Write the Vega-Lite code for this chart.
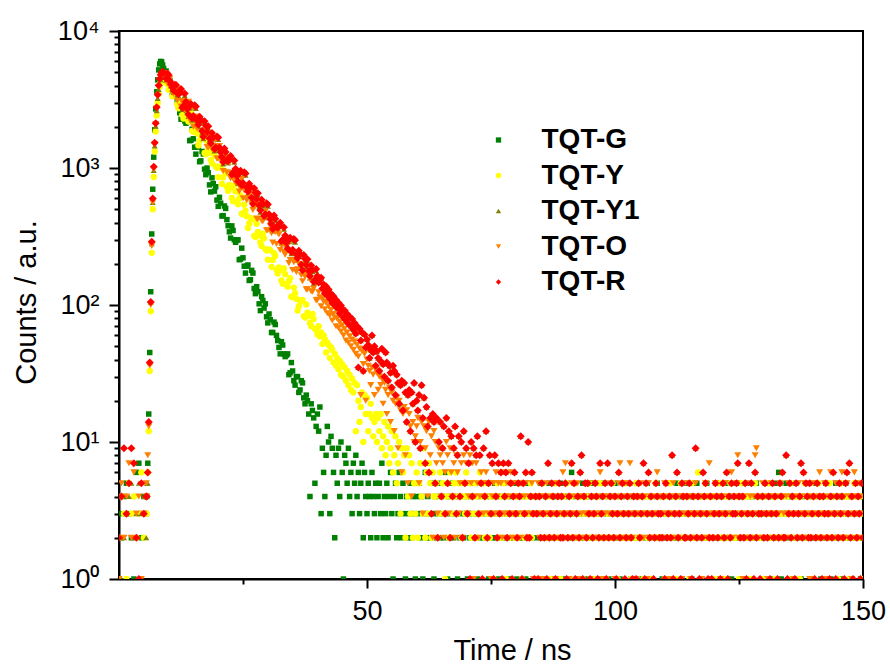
{
"$schema": "https://vega.github.io/schema/vega-lite/v6.json",
"width": 744, "height": 548,
"autosize": {"type": "none"},
"padding": {"left": 119, "top": 31, "right": 27, "bottom": 89},
"background": "white",
"config": {
  "view": {"stroke": "black", "strokeWidth": 2},
  "axis": {"grid": false, "domainColor": "black", "domainWidth": 2, "tickColor": "black", "tickWidth": 2, "labelColor": "black", "labelFont": "Liberation Sans", "labelFontSize": 27, "titleFont": "Liberation Sans", "titleFontSize": 29, "titleFontWeight": "normal", "titleColor": "black", "labelOverlap": false, "labelFlush": false},
  "legend": {"orient": "none", "legendX": 365.5, "legendY": 95, "padding": 0, "labelFont": "Liberation Sans", "labelFontSize": 28, "labelFontWeight": "bold", "labelColor": "black", "symbolSize": 28, "rowPadding": 7.5, "labelOffset": 29, "symbolStrokeWidth": 0}
},
"data": {"values": [
{"t":0,"G":3,"Y":2,"Y1":4,"O":1,"R":2},
{"t":0.5,"G":2,"Y":4,"Y1":1,"O":5,"R":4},
{"t":1,"G":4,"Y":3,"Y1":2,"O":2,"R":9},
{"t":1.5,"G":5,"Y":1,"Y1":3,"O":4,"R":3},
{"t":2,"G":3,"Y":5,"Y1":4,"O":7,"R":5},
{"t":2.5,"G":2,"Y":3,"Y1":5,"O":2,"R":9},
{"t":3,"G":1,"Y":4,"Y1":2,"O":6,"R":7},
{"t":3.5,"G":6,"Y":2,"Y1":3,"O":3,"R":2},
{"t":4,"G":7,"Y":3,"Y1":5,"O":4,"R":1},
{"t":4.5,"G":2,"Y":6,"Y1":3,"O":1,"R":5},
{"t":5,"G":4,"Y":2,"Y1":4,"O":3,"R":3},
{"t":5.5,"G":3,"Y":4,"Y1":2,"O":5,"R":4},
{"t":5.6,"G":4,"Y":3,"Y1":5,"O":4,"R":4},
{"t":5.8,"G":7,"Y":6,"Y1":5,"O":8,"R":6},
{"t":6.0,"G":16,"Y":12,"Y1":14,"O":13,"R":14},
{"t":6.2,"G":45,"Y":33,"Y1":38,"O":36,"R":38},
{"t":6.4,"G":125,"Y":90,"Y1":105,"O":100,"R":105},
{"t":6.6,"G":330,"Y":240,"Y1":280,"O":270,"R":290},
{"t":6.8,"G":700,"Y":500,"Y1":560,"O":560,"R":600},
{"t":7.0,"G":1200,"Y":860,"Y1":960,"O":980,"R":1020},
{"t":7.2,"G":1900,"Y":1320,"Y1":1450,"O":1480,"R":1530},
{"t":7.4,"G":2700,"Y":1850,"Y1":2020,"O":2080,"R":2120},
{"t":7.6,"G":3600,"Y":2420,"Y1":2620,"O":2720,"R":2780},
{"t":7.8,"G":4400,"Y":2980,"Y1":3220,"O":3350,"R":3420},
{"t":8.0,"G":5200,"Y":3480,"Y1":3750,"O":3900,"R":4000},
{"t":8.2,"G":5750,"Y":3900,"Y1":4150,"O":4330,"R":4480},
{"t":8.4,"G":6000,"Y":4220,"Y1":4420,"O":4600,"R":4800},
{"t":8.6,"G":5950,"Y":4430,"Y1":4580,"O":4760,"R":4970},
{"t":8.8,"G":5650,"Y":4560,"Y1":4650,"O":4820,"R":5050},
{"t":9.0,"G":5330,"Y":4600,"Y1":4640,"O":4790,"R":4950},
{"t":9.5,"G":5104,"Y":4205,"Y1":4375,"O":4926,"R":4510},
{"t":10,"G":4117,"Y":3723,"Y1":4630,"O":4085,"R":4773},
{"t":10.5,"G":4021,"Y":3884,"Y1":3970,"O":4106,"R":4093},
{"t":11,"G":3442,"Y":3449,"Y1":3563,"O":3470,"R":3673},
{"t":11.5,"G":3743,"Y":3673,"Y1":3911,"O":3801,"R":4032},
{"t":12,"G":2803,"Y":2729,"Y1":3354,"O":3745,"R":3458},
{"t":12.5,"G":2272,"Y":2886,"Y1":3658,"O":2803,"R":3771},
{"t":13,"G":2582,"Y":2296,"Y1":2754,"O":3084,"R":2839},
{"t":13.5,"G":2120,"Y":2708,"Y1":2951,"O":2596,"R":3042},
{"t":14,"G":2211,"Y":2182,"Y1":2379,"O":3048,"R":2453},
{"t":14.5,"G":1594,"Y":2529,"Y1":2844,"O":2376,"R":2932},
{"t":15,"G":1635,"Y":1839,"Y1":2322,"O":2004,"R":2394},
{"t":15.5,"G":1262,"Y":1958,"Y1":2727,"O":2370,"R":2811},
{"t":16,"G":1443,"Y":1462,"Y1":2010,"O":2025,"R":2072},
{"t":16.5,"G":1128,"Y":1737,"Y1":2168,"O":2198,"R":2235},
{"t":17,"G":1267,"Y":1696,"Y1":1639,"O":1648,"R":1690},
{"t":17.5,"G":894,"Y":1258,"Y1":1974,"O":1758,"R":2035},
{"t":18,"G":924,"Y":1371,"Y1":1954,"O":1412,"R":2014},
{"t":18.5,"G":669,"Y":1143,"Y1":1468,"O":1681,"R":1513},
{"t":19,"G":770,"Y":1331,"Y1":1621,"O":1367,"R":1671},
{"t":19.5,"G":730,"Y":1027,"Y1":1372,"O":1599,"R":1414},
{"t":20,"G":525,"Y":858,"Y1":1617,"O":1174,"R":1667},
{"t":20.5,"G":554,"Y":1005,"Y1":1265,"O":1261,"R":1304},
{"t":21,"G":449,"Y":852,"Y1":1071,"O":950,"R":1104},
{"t":21.5,"G":507,"Y":915,"Y1":1272,"O":1140,"R":1311},
{"t":22,"G":379,"Y":680,"Y1":1090,"O":1123,"R":1124},
{"t":22.5,"G":308,"Y":719,"Y1":1189,"O":840,"R":1226},
{"t":23,"G":350,"Y":572,"Y1":895,"O":925,"R":923},
{"t":23.5,"G":287,"Y":675,"Y1":958,"O":778,"R":988},
{"t":24,"G":299,"Y":544,"Y1":773,"O":914,"R":797},
{"t":24.5,"G":216,"Y":630,"Y1":924,"O":712,"R":953},
{"t":25,"G":221,"Y":458,"Y1":755,"O":601,"R":778},
{"t":25.5,"G":171,"Y":488,"Y1":886,"O":711,"R":913},
{"t":26,"G":196,"Y":365,"Y1":653,"O":607,"R":673},
{"t":26.5,"G":153,"Y":433,"Y1":705,"O":659,"R":727},
{"t":27,"G":171,"Y":423,"Y1":533,"O":494,"R":549},
{"t":27.5,"G":121,"Y":313,"Y1":641,"O":527,"R":661},
{"t":28,"G":125,"Y":342,"Y1":635,"O":424,"R":655},
{"t":28.5,"G":91,"Y":286,"Y1":477,"O":504,"R":492},
{"t":29,"G":108,"Y":332,"Y1":527,"O":409,"R":543},
{"t":29.5,"G":102,"Y":256,"Y1":445,"O":479,"R":459},
{"t":30,"G":74,"Y":214,"Y1":526,"O":351,"R":542},
{"t":30.5,"G":78,"Y":251,"Y1":410,"O":378,"R":423},
{"t":31,"G":63,"Y":213,"Y1":348,"O":285,"R":359},
{"t":31.5,"G":72,"Y":228,"Y1":414,"O":341,"R":427},
{"t":32,"G":55,"Y":170,"Y1":355,"O":337,"R":366},
{"t":32.5,"G":44,"Y":180,"Y1":387,"O":252,"R":399},
{"t":33,"G":51,"Y":143,"Y1":291,"O":277,"R":300},
{"t":33.5,"G":42,"Y":168,"Y1":311,"O":233,"R":321},
{"t":34,"G":44,"Y":136,"Y1":251,"O":274,"R":259},
{"t":34.5,"G":32,"Y":157,"Y1":301,"O":213,"R":310},
{"t":35,"G":33,"Y":114,"Y1":245,"O":180,"R":253},
{"t":35.5,"G":26,"Y":122,"Y1":288,"O":213,"R":297},
{"t":36,"G":30,"Y":91,"Y1":212,"O":182,"R":219},
{"t":36.5,"G":24,"Y":108,"Y1":229,"O":198,"R":236},
{"t":37,"G":27,"Y":109,"Y1":174,"O":149,"R":179},
{"t":37.5,"G":19,"Y":81,"Y1":211,"O":161,"R":218},
{"t":38,"G":20,"Y":88,"Y1":210,"O":130,"R":216},
{"t":38.5,"G":4,"Y":74,"Y1":158,"O":154,"R":163},
{"t":39,"G":17,"Y":86,"Y1":175,"O":125,"R":180},
{"t":39.5,"G":5,"Y":67,"Y1":148,"O":148,"R":153},
{"t":9.75,"G":4443,"Y":4083,"Y1":4739,"O":4144,"R":4886},
{"t":10.25,"G":4331,"Y":3983,"Y1":4188,"O":4480,"R":4318},
{"t":10.75,"G":3525,"Y":3337,"Y1":3762,"O":3809,"R":3878},
{"t":11.25,"G":3647,"Y":3601,"Y1":3929,"O":3806,"R":4051},
{"t":11.75,"G":3100,"Y":2919,"Y1":3415,"O":3102,"R":3521},
{"t":12.25,"G":2528,"Y":3017,"Y1":3528,"O":3634,"R":3637},
{"t":12.75,"G":2789,"Y":2432,"Y1":2675,"O":3025,"R":2758},
{"t":13.25,"G":2206,"Y":2982,"Y1":3391,"O":2704,"R":3496},
{"t":13.75,"G":2180,"Y":2283,"Y1":2615,"O":2952,"R":2696},
{"t":14.25,"G":1583,"Y":2396,"Y1":2738,"O":2244,"R":2823},
{"t":14.75,"G":1921,"Y":1863,"Y1":2237,"O":2761,"R":2306},
{"t":15.25,"G":1418,"Y":2163,"Y1":2781,"O":2284,"R":2867},
{"t":15.75,"G":1420,"Y":1783,"Y1":2156,"O":1937,"R":2223},
{"t":16.25,"G":1111,"Y":1580,"Y1":2294,"O":2226,"R":2365},
{"t":16.75,"G":1321,"Y":1709,"Y1":1807,"O":1830,"R":1863},
{"t":17.25,"G":981,"Y":1287,"Y1":2125,"O":1884,"R":2191},
{"t":17.75,"G":999,"Y":1570,"Y1":1776,"O":1422,"R":1831},
{"t":18.25,"G":753,"Y":1286,"Y1":1594,"O":1796,"R":1643},
{"t":18.75,"G":848,"Y":1080,"Y1":1748,"O":1379,"R":1802},
{"t":19.25,"G":678,"Y":1230,"Y1":1334,"O":1438,"R":1375},
{"t":19.75,"G":583,"Y":1003,"Y1":1649,"O":1170,"R":1700},
{"t":20.25,"G":611,"Y":1022,"Y1":1369,"O":1448,"R":1411},
{"t":20.75,"G":446,"Y":764,"Y1":1165,"O":1118,"R":1201},
{"t":21.25,"G":528,"Y":956,"Y1":1343,"O":1185,"R":1385},
{"t":21.75,"G":420,"Y":727,"Y1":1111,"O":930,"R":1145},
{"t":22.25,"G":342,"Y":752,"Y1":1147,"O":1090,"R":1182},
{"t":22.75,"G":378,"Y":606,"Y1":870,"O":907,"R":897},
{"t":23.25,"G":299,"Y":744,"Y1":1102,"O":811,"R":1136},
{"t":23.75,"G":296,"Y":569,"Y1":850,"O":885,"R":876},
{"t":24.25,"G":214,"Y":598,"Y1":890,"O":673,"R":917},
{"t":24.75,"G":260,"Y":464,"Y1":727,"O":828,"R":749},
{"t":25.25,"G":192,"Y":539,"Y1":903,"O":685,"R":931},
{"t":25.75,"G":192,"Y":445,"Y1":701,"O":581,"R":723},
{"t":26.25,"G":151,"Y":394,"Y1":746,"O":667,"R":769},
{"t":26.75,"G":179,"Y":426,"Y1":588,"O":549,"R":606},
{"t":27.25,"G":132,"Y":321,"Y1":691,"O":565,"R":712},
{"t":27.75,"G":136,"Y":391,"Y1":577,"O":427,"R":595},
{"t":28.25,"G":102,"Y":321,"Y1":519,"O":539,"R":535},
{"t":28.75,"G":115,"Y":270,"Y1":568,"O":413,"R":586},
{"t":29.25,"G":95,"Y":306,"Y1":434,"O":431,"R":447},
{"t":29.75,"G":82,"Y":250,"Y1":535,"O":351,"R":552},
{"t":30.25,"G":86,"Y":255,"Y1":445,"O":434,"R":459},
{"t":30.75,"G":63,"Y":190,"Y1":378,"O":335,"R":390},
{"t":31.25,"G":75,"Y":239,"Y1":437,"O":355,"R":450},
{"t":31.75,"G":60,"Y":181,"Y1":361,"O":279,"R":372},
{"t":32.25,"G":49,"Y":188,"Y1":373,"O":327,"R":385},
{"t":32.75,"G":54,"Y":151,"Y1":283,"O":272,"R":292},
{"t":33.25,"G":44,"Y":185,"Y1":358,"O":243,"R":369},
{"t":33.75,"G":43,"Y":142,"Y1":276,"O":266,"R":285},
{"t":34.25,"G":31,"Y":149,"Y1":290,"O":202,"R":299},
{"t":34.75,"G":38,"Y":115,"Y1":237,"O":247,"R":244},
{"t":35.25,"G":28,"Y":134,"Y1":294,"O":205,"R":303},
{"t":35.75,"G":30,"Y":111,"Y1":228,"O":174,"R":235},
{"t":36.25,"G":23,"Y":98,"Y1":242,"O":200,"R":249},
{"t":36.75,"G":28,"Y":107,"Y1":191,"O":165,"R":197},
{"t":37.25,"G":21,"Y":83,"Y1":225,"O":170,"R":232},
{"t":37.75,"G":22,"Y":101,"Y1":190,"O":130,"R":196},
{"t":38.25,"G":16,"Y":83,"Y1":172,"O":165,"R":177},
{"t":38.75,"G":19,"Y":70,"Y1":188,"O":126,"R":194},
{"t":39.25,"G":15,"Y":79,"Y1":144,"O":132,"R":148},
{"t":39.75,"G":13,"Y":66,"Y1":178,"O":108,"R":183},
{"t":40,"G":16,"Y":61,"Y1":163,"O":109,"R":163},
{"t":40.25,"G":12,"Y":70,"Y1":146,"O":124,"R":146},
{"t":40.5,"G":18,"Y":59,"Y1":152,"O":114,"R":152},
{"t":40.75,"G":3,"Y":63,"Y1":158,"O":98,"R":158},
{"t":41,"G":9,"Y":52,"Y1":132,"O":111,"R":132},
{"t":41.25,"G":6,"Y":60,"Y1":141,"O":106,"R":141},
{"t":41.5,"G":4,"Y":56,"Y1":122,"O":93,"R":122},
{"t":41.75,"G":8,"Y":45,"Y1":137,"O":104,"R":137},
{"t":42,"G":13,"Y":53,"Y1":118,"O":87,"R":118},
{"t":42.25,"G":10,"Y":51,"Y1":130,"O":98,"R":130},
{"t":42.5,"G":3,"Y":41,"Y1":111,"O":84,"R":111},
{"t":42.75,"G":11,"Y":49,"Y1":121,"O":92,"R":121},
{"t":43,"G":9,"Y":47,"Y1":104,"O":77,"R":104},
{"t":43.25,"G":6,"Y":38,"Y1":116,"O":86,"R":116},
{"t":43.5,"G":2,"Y":44,"Y1":99,"O":81,"R":99},
{"t":43.75,"G":8,"Y":36,"Y1":109,"O":70,"R":109},
{"t":44,"G":5,"Y":41,"Y1":95,"O":79,"R":95},
{"t":44.25,"G":9,"Y":34,"Y1":104,"O":68,"R":104},
{"t":44.5,"G":4,"Y":39,"Y1":87,"O":75,"R":87},
{"t":44.75,"G":10,"Y":31,"Y1":99,"O":64,"R":99},
{"t":45,"G":6,"Y":37,"Y1":93,"O":71,"R":93},
{"t":45.25,"G":1,"Y":30,"Y1":81,"O":60,"R":81},
{"t":45.5,"G":8,"Y":35,"Y1":91,"O":67,"R":91},
{"t":45.75,"G":7,"Y":28,"Y1":77,"O":55,"R":77},
{"t":46,"G":5,"Y":33,"Y1":86,"O":63,"R":86},
{"t":46.25,"G":9,"Y":26,"Y1":73,"O":53,"R":73},
{"t":46.5,"G":4,"Y":31,"Y1":82,"O":59,"R":82},
{"t":46.75,"G":6,"Y":24,"Y1":70,"O":50,"R":70},
{"t":47,"G":3,"Y":29,"Y1":79,"O":56,"R":79},
{"t":47.25,"G":7,"Y":23,"Y1":66,"O":47,"R":66},
{"t":47.5,"G":5,"Y":27,"Y1":74,"O":54,"R":74},
{"t":47.75,"G":8,"Y":12,"Y1":62,"O":44,"R":62},
{"t":48,"G":4,"Y":26,"Y1":70,"O":51,"R":70},
{"t":48.25,"G":6,"Y":20,"Y1":35,"O":42,"R":35},
{"t":48.5,"G":3,"Y":14,"Y1":67,"O":48,"R":67},
{"t":48.75,"G":5,"Y":18,"Y1":55,"O":22,"R":55},
{"t":49,"G":7,"Y":23,"Y1":63,"O":46,"R":63},
{"t":49.25,"G":2,"Y":10,"Y1":33,"O":37,"R":33},
{"t":49.5,"G":6,"Y":22,"Y1":61,"O":44,"R":61},
{"t":49.75,"G":4,"Y":16,"Y1":49,"O":20,"R":49},
{"t":50,"G":3,"Y":21,"Y1":56,"O":40,"R":56},
{"t":50.25,"G":5,"Y":12,"Y1":51,"O":36,"R":51},
{"t":50.5,"G":4,"Y":16,"Y1":41,"O":33,"R":41},
{"t":50.75,"G":2,"Y":19,"Y1":47,"O":26,"R":47},
{"t":51,"G":6,"Y":15,"Y1":60,"O":35,"R":60},
{"t":51.25,"G":4,"Y":11,"Y1":45,"O":31,"R":45},
{"t":51.5,"G":3,"Y":14,"Y1":50,"O":22,"R":50},
{"t":51.75,"G":5,"Y":16,"Y1":36,"O":34,"R":36},
{"t":52,"G":2,"Y":10,"Y1":46,"O":32,"R":46},
{"t":52.25,"G":4,"Y":15,"Y1":41,"O":24,"R":41},
{"t":52.5,"G":5,"Y":12,"Y1":33,"O":30,"R":33},
{"t":52.75,"G":3,"Y":16,"Y1":39,"O":26,"R":39},
{"t":53,"G":7,"Y":9,"Y1":48,"O":29,"R":48},
{"t":53.25,"G":2,"Y":11,"Y1":37,"O":19,"R":37},
{"t":53.5,"G":4,"Y":14,"Y1":30,"O":27,"R":30},
{"t":53.75,"G":3,"Y":8,"Y1":45,"O":24,"R":45},
{"t":54,"G":5,"Y":10,"Y1":38,"O":16,"R":38},
{"t":54.25,"G":2,"Y":13,"Y1":28,"O":22,"R":28},
{"t":54.5,"G":4,"Y":7,"Y1":36,"O":25,"R":36},
{"t":54.75,"G":6,"Y":9,"Y1":32,"O":14,"R":32},
{"t":55,"G":3,"Y":12,"Y1":25,"O":23,"R":25},
{"t":55.25,"G":1,"Y":6,"Y1":36,"O":20,"R":36},
{"t":55.5,"G":4,"Y":8,"Y1":33,"O":12,"R":33},
{"t":55.75,"G":5,"Y":11,"Y1":22,"O":19,"R":22},
{"t":56,"G":2,"Y":5,"Y1":31,"O":21,"R":31},
{"t":56.25,"G":3,"Y":7,"Y1":27,"O":9,"R":27},
{"t":56.5,"G":6,"Y":10,"Y1":19,"O":20,"R":19},
{"t":56.75,"G":4,"Y":3,"Y1":26,"O":17,"R":26},
{"t":57,"G":2,"Y":9,"Y1":28,"O":6,"R":28},
{"t":57.25,"G":5,"Y":6,"Y1":17,"O":16,"R":17},
{"t":57.5,"G":3,"Y":8,"Y1":27,"O":18,"R":27},
{"t":57.75,"G":1,"Y":2,"Y1":23,"O":8,"R":23},
{"t":58,"G":4,"Y":9,"Y1":14,"O":17,"R":14},
{"t":58.25,"G":2,"Y":4,"Y1":22,"O":5,"R":22},
{"t":58.5,"G":3,"Y":8,"Y1":24,"O":16,"R":24},
{"t":58.75,"G":5,"Y":3,"Y1":12,"O":13,"R":12},
{"t":59,"G":2,"Y":7,"Y1":23,"O":4,"R":23},
{"t":59.25,"G":4,"Y":2,"Y1":19,"O":14,"R":19},
{"t":59.5,"G":3,"Y":5,"Y1":27,"O":10,"R":27},
{"t":59.75,"G":1,"Y":3,"Y1":10,"O":11,"R":10},
{"t":60,"G":4,"Y":6,"Y1":20,"O":13,"R":20},
{"t":60.25,"G":3,"Y":2,"Y1":17,"O":15,"R":17},
{"t":60.5,"G":5,"Y":5,"Y1":22,"O":5,"R":22},
{"t":60.75,"G":2,"Y":7,"Y1":9,"O":10,"R":9},
{"t":61,"G":4,"Y":4,"Y1":26,"O":14,"R":26},
{"t":61.25,"G":1,"Y":3,"Y1":15,"O":3,"R":15},
{"t":61.5,"G":3,"Y":9,"Y1":21,"O":13,"R":21},
{"t":61.75,"G":6,"Y":2,"Y1":7,"O":9,"R":7},
{"t":62,"G":2,"Y":6,"Y1":18,"O":12,"R":18},
{"t":62.25,"G":4,"Y":3,"Y1":13,"O":4,"R":13},
{"t":62.5,"G":3,"Y":7,"Y1":6,"O":14,"R":6},
{"t":62.75,"G":2,"Y":5,"Y1":15,"O":8,"R":15},
{"t":63,"G":5,"Y":2,"Y1":3,"O":11,"R":3},
{"t":63.25,"G":3,"Y":6,"Y1":16,"O":2,"R":16},
{"t":63.5,"G":1,"Y":4,"Y1":14,"O":12,"R":14},
{"t":63.75,"G":4,"Y":4,"Y1":5,"O":10,"R":5},
{"t":64,"G":2,"Y":5,"Y1":15,"O":7,"R":15},
{"t":64.25,"G":3,"Y":2,"Y1":2,"O":3,"R":2},
{"t":64.5,"G":5,"Y":3,"Y1":10,"O":9,"R":10},
{"t":64.75,"G":2,"Y":6,"Y1":14,"O":8,"R":14},
{"t":65,"G":4,"Y":4,"Y1":4,"O":4,"R":4},
{"t":65.25,"G":3,"Y":5,"Y1":9,"O":7,"R":9},
{"t":65.5,"G":2,"Y":3,"Y1":13,"O":2,"R":13},
{"t":65.75,"G":6,"Y":1,"Y1":3,"O":6,"R":3},
{"t":66,"G":3,"Y":4,"Y1":15,"O":10,"R":15},
{"t":66.25,"G":1,"Y":5,"Y1":5,"O":8,"R":5},
{"t":66.5,"G":4,"Y":2,"Y1":12,"O":3,"R":12},
{"t":66.75,"G":2,"Y":6,"Y1":2,"O":9,"R":2},
{"t":67,"G":3,"Y":4,"Y1":11,"O":6,"R":11},
{"t":67.25,"G":5,"Y":3,"Y1":4,"O":4,"R":4},
{"t":67.5,"G":2,"Y":5,"Y1":9,"O":7,"R":9},
{"t":67.75,"G":4,"Y":4,"Y1":13,"O":2,"R":13},
{"t":68,"G":3,"Y":6,"Y1":3,"O":8,"R":3},
{"t":68.25,"G":1,"Y":3,"Y1":8,"O":6,"R":8},
{"t":68.5,"G":4,"Y":5,"Y1":11,"O":3,"R":11},
{"t":68.75,"G":2,"Y":4,"Y1":4,"O":5,"R":4},
{"t":69,"G":3,"Y":2,"Y1":10,"O":7,"R":10},
{"t":69.25,"G":5,"Y":5,"Y1":2,"O":2,"R":2},
{"t":69.5,"G":2,"Y":4,"Y1":12,"O":8,"R":12},
{"t":69.75,"G":3,"Y":3,"Y1":5,"O":5,"R":5},
{"t":70,"G":4,"Y":6,"Y1":9,"O":7,"R":9},
{"t":70.25,"G":1,"Y":4,"Y1":3,"O":3,"R":3},
{"t":70.5,"G":3,"Y":3,"Y1":7,"O":4,"R":7},
{"t":70.75,"G":2,"Y":5,"Y1":1,"O":8,"R":1},
{"t":71,"G":4,"Y":2,"Y1":10,"O":5,"R":10},
{"t":71.25,"G":3,"Y":4,"Y1":4,"O":7,"R":4},
{"t":71.5,"G":5,"Y":3,"Y1":9,"O":1,"R":9},
{"t":71.75,"G":2,"Y":5,"Y1":2,"O":4,"R":2},
{"t":72,"G":3,"Y":4,"Y1":8,"O":7,"R":8},
{"t":72.25,"G":1,"Y":2,"Y1":11,"O":5,"R":11},
{"t":72.5,"G":4,"Y":3,"Y1":3,"O":2,"R":3},
{"t":72.75,"G":2,"Y":6,"Y1":8,"O":4,"R":8},
{"t":73,"G":3,"Y":4,"Y1":5,"O":6,"R":5},
{"t":73.25,"G":5,"Y":3,"Y1":1,"O":5,"R":1},
{"t":73.5,"G":2,"Y":5,"Y1":9,"O":3,"R":9},
{"t":73.75,"G":3,"Y":2,"Y1":4,"O":4,"R":4},
{"t":74,"G":4,"Y":4,"Y1":12,"O":6,"R":12},
{"t":74.25,"G":2,"Y":3,"Y1":2,"O":5,"R":2},
{"t":74.5,"G":1,"Y":5,"Y1":5,"O":3,"R":5},
{"t":74.75,"G":3,"Y":2,"Y1":8,"O":5,"R":8},
{"t":75,"G":4,"Y":4,"Y1":3,"O":1,"R":3},
{"t":75.25,"G":2,"Y":3,"Y1":7,"O":4,"R":7},
{"t":75.5,"G":3,"Y":1,"Y1":1,"O":5,"R":1},
{"t":75.75,"G":5,"Y":4,"Y1":8,"O":3,"R":8},
{"t":76,"G":2,"Y":3,"Y1":4,"O":6,"R":4},
{"t":76.25,"G":3,"Y":5,"Y1":2,"O":4,"R":2},
{"t":76.5,"G":1,"Y":2,"Y1":7,"O":5,"R":7},
{"t":76.75,"G":4,"Y":3,"Y1":3,"O":3,"R":3},
{"t":77,"G":2,"Y":4,"Y1":6,"O":5,"R":6},
{"t":77.25,"G":3,"Y":2,"Y1":1,"O":2,"R":1},
{"t":77.5,"G":5,"Y":5,"Y1":7,"O":6,"R":7},
{"t":77.75,"G":2,"Y":3,"Y1":4,"O":3,"R":4},
{"t":78,"G":4,"Y":1,"Y1":6,"O":4,"R":6},
{"t":78.25,"G":3,"Y":4,"Y1":2,"O":5,"R":2},
{"t":78.5,"G":1,"Y":3,"Y1":7,"O":3,"R":7},
{"t":78.75,"G":2,"Y":2,"Y1":3,"O":4,"R":3},
{"t":79,"G":4,"Y":5,"Y1":5,"O":6,"R":5},
{"t":79.25,"G":3,"Y":3,"Y1":1,"O":2,"R":1},
{"t":79.5,"G":2,"Y":4,"Y1":4,"O":5,"R":4},
{"t":79.75,"G":5,"Y":2,"Y1":6,"O":3,"R":6},
{"t":80,"G":3,"Y":3,"Y1":3,"O":4,"R":3},
{"t":80.25,"G":1,"Y":4,"Y1":2,"O":5,"R":2},
{"t":80.5,"G":4,"Y":2,"Y1":5,"O":3,"R":5},
{"t":80.75,"G":2,"Y":5,"Y1":4,"O":4,"R":4},
{"t":81,"G":3,"Y":3,"Y1":11,"O":2,"R":11},
{"t":81.25,"G":2,"Y":1,"Y1":1,"O":5,"R":1},
{"t":81.5,"G":4,"Y":4,"Y1":5,"O":3,"R":5},
{"t":81.75,"G":3,"Y":2,"Y1":3,"O":4,"R":3},
{"t":82,"G":1,"Y":3,"Y1":6,"O":5,"R":6},
{"t":82.25,"G":5,"Y":4,"Y1":2,"O":3,"R":2},
{"t":82.5,"G":2,"Y":2,"Y1":10,"O":2,"R":10},
{"t":82.75,"G":3,"Y":3,"Y1":2,"O":4,"R":2},
{"t":83,"G":4,"Y":5,"Y1":4,"O":3,"R":4},
{"t":83.25,"G":2,"Y":2,"Y1":6,"O":5,"R":6},
{"t":83.5,"G":3,"Y":3,"Y1":3,"O":1,"R":3},
{"t":83.75,"G":1,"Y":4,"Y1":1,"O":4,"R":1},
{"t":84,"G":4,"Y":1,"Y1":4,"O":3,"R":4},
{"t":84.25,"G":2,"Y":3,"Y1":3,"O":3,"R":3},
{"t":84.5,"G":4,"Y":1,"Y1":1,"O":5,"R":1},
{"t":84.75,"G":3,"Y":4,"Y1":4,"O":2,"R":4},
{"t":85,"G":5,"Y":2,"Y1":2,"O":4,"R":2},
{"t":85.25,"G":1,"Y":3,"Y1":5,"O":3,"R":5},
{"t":85.5,"G":3,"Y":5,"Y1":3,"O":1,"R":3},
{"t":85.75,"G":2,"Y":2,"Y1":2,"O":4,"R":2},
{"t":86,"G":4,"Y":3,"Y1":4,"O":3,"R":4},
{"t":86.25,"G":3,"Y":4,"Y1":1,"O":5,"R":1},
{"t":86.5,"G":2,"Y":2,"Y1":7,"O":2,"R":7},
{"t":86.75,"G":5,"Y":3,"Y1":2,"O":4,"R":2},
{"t":87,"G":3,"Y":1,"Y1":3,"O":3,"R":3},
{"t":87.25,"G":2,"Y":4,"Y1":5,"O":2,"R":5},
{"t":87.5,"G":4,"Y":3,"Y1":4,"O":4,"R":4},
{"t":87.75,"G":1,"Y":2,"Y1":2,"O":3,"R":2},
{"t":88,"G":3,"Y":5,"Y1":1,"O":1,"R":1},
{"t":88.25,"G":4,"Y":2,"Y1":3,"O":5,"R":3},
{"t":88.5,"G":2,"Y":3,"Y1":4,"O":2,"R":4},
{"t":88.75,"G":3,"Y":4,"Y1":5,"O":3,"R":5},
{"t":89,"G":5,"Y":1,"Y1":2,"O":4,"R":2},
{"t":89.25,"G":2,"Y":3,"Y1":4,"O":3,"R":4},
{"t":89.5,"G":4,"Y":2,"Y1":2,"O":6,"R":2},
{"t":89.75,"G":3,"Y":4,"Y1":3,"O":2,"R":3},
{"t":90,"G":1,"Y":3,"Y1":5,"O":7,"R":5},
{"t":90.25,"G":3,"Y":5,"Y1":1,"O":3,"R":1},
{"t":90.5,"G":4,"Y":2,"Y1":2,"O":4,"R":2},
{"t":90.75,"G":2,"Y":3,"Y1":4,"O":1,"R":4},
{"t":91,"G":3,"Y":1,"Y1":3,"O":3,"R":3},
{"t":91.25,"G":6,"Y":4,"Y1":7,"O":5,"R":7},
{"t":91.5,"G":2,"Y":2,"Y1":2,"O":2,"R":2},
{"t":91.75,"G":4,"Y":3,"Y1":5,"O":4,"R":5},
{"t":92,"G":3,"Y":5,"Y1":1,"O":3,"R":1},
{"t":92.25,"G":1,"Y":2,"Y1":3,"O":2,"R":3},
{"t":92.5,"G":3,"Y":4,"Y1":4,"O":5,"R":4},
{"t":92.75,"G":4,"Y":3,"Y1":2,"O":1,"R":2},
{"t":93,"G":2,"Y":2,"Y1":6,"O":4,"R":6},
{"t":93.25,"G":3,"Y":4,"Y1":8,"O":3,"R":8},
{"t":93.5,"G":5,"Y":1,"Y1":1,"O":2,"R":1},
{"t":93.75,"G":2,"Y":3,"Y1":4,"O":4,"R":4},
{"t":94,"G":4,"Y":2,"Y1":5,"O":3,"R":5},
{"t":94.25,"G":3,"Y":4,"Y1":2,"O":2,"R":2},
{"t":94.5,"G":1,"Y":3,"Y1":5,"O":5,"R":5},
{"t":94.75,"G":4,"Y":5,"Y1":3,"O":3,"R":3},
{"t":95,"G":2,"Y":2,"Y1":1,"O":1,"R":1},
{"t":95.25,"G":3,"Y":3,"Y1":4,"O":4,"R":4},
{"t":95.5,"G":5,"Y":4,"Y1":2,"O":3,"R":2},
{"t":95.75,"G":2,"Y":1,"Y1":3,"O":2,"R":3},
{"t":96,"G":4,"Y":3,"Y1":5,"O":5,"R":5},
{"t":96.25,"G":3,"Y":2,"Y1":4,"O":3,"R":4},
{"t":96.5,"G":1,"Y":4,"Y1":1,"O":4,"R":1},
{"t":96.75,"G":3,"Y":3,"Y1":2,"O":2,"R":2},
{"t":97,"G":4,"Y":5,"Y1":7,"O":6,"R":7},
{"t":97.25,"G":2,"Y":2,"Y1":3,"O":3,"R":3},
{"t":97.5,"G":3,"Y":3,"Y1":4,"O":1,"R":4},
{"t":97.75,"G":5,"Y":4,"Y1":2,"O":4,"R":2},
{"t":98,"G":2,"Y":2,"Y1":5,"O":3,"R":5},
{"t":98.25,"G":4,"Y":1,"Y1":1,"O":2,"R":1},
{"t":98.5,"G":3,"Y":3,"Y1":7,"O":4,"R":7},
{"t":98.75,"G":1,"Y":4,"Y1":2,"O":3,"R":2},
{"t":99,"G":3,"Y":2,"Y1":4,"O":5,"R":4},
{"t":99.25,"G":4,"Y":3,"Y1":5,"O":2,"R":5},
{"t":99.5,"G":2,"Y":5,"Y1":3,"O":4,"R":3},
{"t":99.75,"G":3,"Y":2,"Y1":2,"O":3,"R":2},
{"t":100,"G":5,"Y":3,"Y1":4,"O":1,"R":4},
{"t":100.25,"G":2,"Y":4,"Y1":1,"O":4,"R":1},
{"t":100.5,"G":3,"Y":1,"Y1":3,"O":2,"R":3},
{"t":100.75,"G":4,"Y":3,"Y1":6,"O":5,"R":6},
{"t":101,"G":1,"Y":2,"Y1":2,"O":7,"R":2},
{"t":101.25,"G":3,"Y":4,"Y1":4,"O":3,"R":4},
{"t":101.5,"G":4,"Y":3,"Y1":5,"O":2,"R":5},
{"t":101.75,"G":2,"Y":2,"Y1":3,"O":4,"R":3},
{"t":102,"G":3,"Y":5,"Y1":1,"O":3,"R":1},
{"t":102.25,"G":5,"Y":3,"Y1":2,"O":5,"R":2},
{"t":102.5,"G":2,"Y":4,"Y1":4,"O":2,"R":4},
{"t":102.75,"G":3,"Y":2,"Y1":3,"O":4,"R":3},
{"t":103,"G":4,"Y":3,"Y1":5,"O":7,"R":5},
{"t":103.25,"G":1,"Y":1,"Y1":2,"O":3,"R":2},
{"t":103.5,"G":3,"Y":4,"Y1":1,"O":2,"R":1},
{"t":103.75,"G":4,"Y":2,"Y1":4,"O":4,"R":4},
{"t":104,"G":2,"Y":3,"Y1":3,"O":3,"R":3},
{"t":104.25,"G":3,"Y":5,"Y1":1,"O":1,"R":1},
{"t":104.5,"G":5,"Y":2,"Y1":4,"O":4,"R":4},
{"t":104.75,"G":2,"Y":3,"Y1":5,"O":3,"R":5},
{"t":105,"G":4,"Y":4,"Y1":2,"O":2,"R":2},
{"t":105.25,"G":3,"Y":2,"Y1":3,"O":5,"R":3},
{"t":105.5,"G":1,"Y":3,"Y1":4,"O":3,"R":4},
{"t":105.75,"G":4,"Y":1,"Y1":7,"O":2,"R":7},
{"t":106,"G":2,"Y":4,"Y1":1,"O":4,"R":1},
{"t":106.25,"G":3,"Y":3,"Y1":5,"O":3,"R":5},
{"t":106.5,"G":5,"Y":2,"Y1":3,"O":1,"R":3},
{"t":106.75,"G":2,"Y":4,"Y1":6,"O":5,"R":6},
{"t":107,"G":4,"Y":3,"Y1":2,"O":2,"R":2},
{"t":107.25,"G":3,"Y":1,"Y1":4,"O":4,"R":4},
{"t":107.5,"G":1,"Y":4,"Y1":3,"O":3,"R":3},
{"t":107.75,"G":4,"Y":2,"Y1":1,"O":2,"R":1},
{"t":108,"G":2,"Y":3,"Y1":2,"O":4,"R":2},
{"t":108.25,"G":3,"Y":5,"Y1":5,"O":3,"R":5},
{"t":108.5,"G":5,"Y":2,"Y1":4,"O":6,"R":4},
{"t":108.75,"G":2,"Y":4,"Y1":3,"O":2,"R":3},
{"t":109,"G":4,"Y":3,"Y1":2,"O":3,"R":2},
{"t":109.25,"G":3,"Y":2,"Y1":3,"O":4,"R":3},
{"t":109.5,"G":1,"Y":4,"Y1":2,"O":2,"R":2},
{"t":109.75,"G":4,"Y":3,"Y1":4,"O":3,"R":4},
{"t":110,"G":2,"Y":1,"Y1":1,"O":5,"R":1},
{"t":110.25,"G":3,"Y":4,"Y1":5,"O":2,"R":5},
{"t":110.5,"G":5,"Y":3,"Y1":2,"O":4,"R":2},
{"t":110.75,"G":2,"Y":2,"Y1":3,"O":3,"R":3},
{"t":111,"G":4,"Y":5,"Y1":4,"O":1,"R":4},
{"t":111.25,"G":3,"Y":3,"Y1":2,"O":4,"R":2},
{"t":111.5,"G":1,"Y":2,"Y1":8,"O":3,"R":8},
{"t":111.75,"G":4,"Y":4,"Y1":1,"O":5,"R":1},
{"t":112,"G":2,"Y":3,"Y1":3,"O":2,"R":3},
{"t":112.25,"G":3,"Y":1,"Y1":4,"O":4,"R":4},
{"t":112.5,"G":5,"Y":4,"Y1":6,"O":3,"R":6},
{"t":112.75,"G":2,"Y":2,"Y1":2,"O":2,"R":2},
{"t":113,"G":4,"Y":3,"Y1":3,"O":4,"R":3},
{"t":113.25,"G":3,"Y":5,"Y1":1,"O":3,"R":1},
{"t":113.5,"G":1,"Y":2,"Y1":5,"O":1,"R":5},
{"t":113.75,"G":4,"Y":3,"Y1":4,"O":4,"R":4},
{"t":114,"G":2,"Y":4,"Y1":2,"O":3,"R":2},
{"t":114.25,"G":3,"Y":2,"Y1":2,"O":5,"R":2},
{"t":114.5,"G":5,"Y":3,"Y1":4,"O":2,"R":4},
{"t":114.75,"G":2,"Y":4,"Y1":3,"O":4,"R":3},
{"t":115,"G":4,"Y":1,"Y1":5,"O":3,"R":5},
{"t":115.25,"G":3,"Y":3,"Y1":2,"O":1,"R":2},
{"t":115.5,"G":1,"Y":5,"Y1":1,"O":4,"R":1},
{"t":115.75,"G":4,"Y":2,"Y1":4,"O":3,"R":4},
{"t":116,"G":2,"Y":3,"Y1":3,"O":2,"R":3},
{"t":116.25,"G":3,"Y":4,"Y1":9,"O":5,"R":9},
{"t":116.5,"G":5,"Y":2,"Y1":2,"O":3,"R":2},
{"t":116.75,"G":2,"Y":6,"Y1":4,"O":4,"R":4},
{"t":117,"G":4,"Y":3,"Y1":1,"O":2,"R":1},
{"t":117.25,"G":3,"Y":1,"Y1":3,"O":3,"R":3},
{"t":117.5,"G":1,"Y":4,"Y1":2,"O":1,"R":2},
{"t":117.75,"G":4,"Y":2,"Y1":6,"O":4,"R":6},
{"t":118,"G":2,"Y":3,"Y1":4,"O":3,"R":4},
{"t":118.25,"G":3,"Y":5,"Y1":5,"O":5,"R":5},
{"t":118.5,"G":5,"Y":2,"Y1":3,"O":2,"R":3},
{"t":118.75,"G":2,"Y":4,"Y1":1,"O":4,"R":1},
{"t":119,"G":4,"Y":3,"Y1":2,"O":7,"R":2},
{"t":119.25,"G":3,"Y":2,"Y1":4,"O":3,"R":4},
{"t":119.5,"G":1,"Y":4,"Y1":1,"O":2,"R":1},
{"t":119.75,"G":4,"Y":3,"Y1":2,"O":4,"R":2},
{"t":120,"G":2,"Y":1,"Y1":3,"O":3,"R":3},
{"t":120.25,"G":3,"Y":4,"Y1":5,"O":5,"R":5},
{"t":120.5,"G":5,"Y":3,"Y1":4,"O":2,"R":4},
{"t":120.75,"G":2,"Y":2,"Y1":2,"O":4,"R":2},
{"t":121,"G":4,"Y":5,"Y1":3,"O":3,"R":3},
{"t":121.25,"G":3,"Y":3,"Y1":1,"O":1,"R":1},
{"t":121.5,"G":1,"Y":2,"Y1":4,"O":4,"R":4},
{"t":121.75,"G":4,"Y":4,"Y1":5,"O":3,"R":5},
{"t":122,"G":2,"Y":3,"Y1":2,"O":2,"R":2},
{"t":122.25,"G":3,"Y":1,"Y1":3,"O":5,"R":3},
{"t":122.5,"G":5,"Y":4,"Y1":6,"O":3,"R":6},
{"t":122.75,"G":2,"Y":2,"Y1":1,"O":4,"R":1},
{"t":123,"G":4,"Y":3,"Y1":4,"O":2,"R":4},
{"t":123.25,"G":3,"Y":5,"Y1":2,"O":3,"R":2},
{"t":123.5,"G":1,"Y":2,"Y1":5,"O":6,"R":5},
{"t":123.75,"G":4,"Y":3,"Y1":3,"O":2,"R":3},
{"t":124,"G":2,"Y":4,"Y1":4,"O":4,"R":4},
{"t":124.25,"G":3,"Y":2,"Y1":3,"O":3,"R":3},
{"t":124.5,"G":5,"Y":3,"Y1":5,"O":5,"R":5},
{"t":124.75,"G":2,"Y":4,"Y1":7,"O":8,"R":7},
{"t":125,"G":4,"Y":1,"Y1":4,"O":2,"R":4},
{"t":125.25,"G":3,"Y":3,"Y1":2,"O":4,"R":2},
{"t":125.5,"G":1,"Y":5,"Y1":3,"O":3,"R":3},
{"t":125.75,"G":4,"Y":2,"Y1":4,"O":1,"R":4},
{"t":126,"G":2,"Y":3,"Y1":2,"O":4,"R":2},
{"t":126.25,"G":3,"Y":4,"Y1":5,"O":2,"R":5},
{"t":126.5,"G":5,"Y":2,"Y1":1,"O":3,"R":1},
{"t":126.75,"G":2,"Y":4,"Y1":3,"O":5,"R":3},
{"t":127,"G":4,"Y":3,"Y1":7,"O":2,"R":7},
{"t":127.25,"G":3,"Y":1,"Y1":2,"O":4,"R":2},
{"t":127.5,"G":1,"Y":4,"Y1":5,"O":3,"R":5},
{"t":127.75,"G":4,"Y":2,"Y1":3,"O":2,"R":3},
{"t":128,"G":2,"Y":3,"Y1":1,"O":4,"R":1},
{"t":128.25,"G":3,"Y":5,"Y1":6,"O":8,"R":6},
{"t":128.5,"G":5,"Y":2,"Y1":2,"O":9,"R":2},
{"t":128.75,"G":2,"Y":4,"Y1":4,"O":3,"R":4},
{"t":129,"G":4,"Y":3,"Y1":3,"O":2,"R":3},
{"t":129.25,"G":3,"Y":2,"Y1":1,"O":4,"R":1},
{"t":129.5,"G":1,"Y":4,"Y1":3,"O":3,"R":3},
{"t":129.75,"G":4,"Y":3,"Y1":4,"O":5,"R":4},
{"t":130,"G":2,"Y":1,"Y1":2,"O":2,"R":2},
{"t":130.25,"G":3,"Y":4,"Y1":5,"O":4,"R":5},
{"t":130.5,"G":5,"Y":3,"Y1":3,"O":3,"R":3},
{"t":130.75,"G":2,"Y":2,"Y1":2,"O":1,"R":2},
{"t":131,"G":4,"Y":5,"Y1":4,"O":4,"R":4},
{"t":131.25,"G":3,"Y":3,"Y1":1,"O":3,"R":1},
{"t":131.5,"G":1,"Y":2,"Y1":3,"O":5,"R":3},
{"t":131.75,"G":4,"Y":4,"Y1":5,"O":2,"R":5},
{"t":132,"G":2,"Y":3,"Y1":2,"O":4,"R":2},
{"t":132.25,"G":3,"Y":1,"Y1":4,"O":3,"R":4},
{"t":132.5,"G":5,"Y":4,"Y1":3,"O":2,"R":3},
{"t":132.75,"G":2,"Y":2,"Y1":1,"O":4,"R":1},
{"t":133,"G":6,"Y":3,"Y1":2,"O":3,"R":2},
{"t":133.25,"G":3,"Y":5,"Y1":5,"O":5,"R":5},
{"t":133.5,"G":1,"Y":2,"Y1":4,"O":2,"R":4},
{"t":133.75,"G":4,"Y":3,"Y1":6,"O":4,"R":6},
{"t":134,"G":2,"Y":4,"Y1":2,"O":3,"R":2},
{"t":134.25,"G":3,"Y":2,"Y1":2,"O":2,"R":2},
{"t":134.5,"G":5,"Y":3,"Y1":8,"O":4,"R":8},
{"t":134.75,"G":2,"Y":4,"Y1":1,"O":3,"R":1},
{"t":135,"G":4,"Y":1,"Y1":3,"O":5,"R":3},
{"t":135.25,"G":3,"Y":3,"Y1":5,"O":2,"R":5},
{"t":135.5,"G":1,"Y":5,"Y1":2,"O":4,"R":2},
{"t":135.75,"G":4,"Y":2,"Y1":4,"O":3,"R":4},
{"t":136,"G":2,"Y":3,"Y1":3,"O":1,"R":3},
{"t":136.25,"G":3,"Y":4,"Y1":1,"O":4,"R":1},
{"t":136.5,"G":5,"Y":2,"Y1":5,"O":3,"R":5},
{"t":136.75,"G":2,"Y":4,"Y1":2,"O":2,"R":2},
{"t":137,"G":4,"Y":3,"Y1":3,"O":5,"R":3},
{"t":137.25,"G":3,"Y":1,"Y1":4,"O":3,"R":4},
{"t":137.5,"G":1,"Y":4,"Y1":7,"O":4,"R":7},
{"t":137.75,"G":4,"Y":2,"Y1":2,"O":2,"R":2},
{"t":138,"G":2,"Y":3,"Y1":6,"O":3,"R":6},
{"t":138.25,"G":3,"Y":5,"Y1":3,"O":5,"R":3},
{"t":138.5,"G":5,"Y":2,"Y1":5,"O":2,"R":5},
{"t":138.75,"G":2,"Y":4,"Y1":4,"O":4,"R":4},
{"t":139,"G":4,"Y":3,"Y1":2,"O":3,"R":2},
{"t":139.25,"G":3,"Y":2,"Y1":5,"O":1,"R":5},
{"t":139.5,"G":1,"Y":4,"Y1":2,"O":4,"R":2},
{"t":139.75,"G":4,"Y":3,"Y1":3,"O":3,"R":3},
{"t":140,"G":2,"Y":1,"Y1":4,"O":5,"R":4},
{"t":140.25,"G":3,"Y":4,"Y1":1,"O":2,"R":1},
{"t":140.5,"G":5,"Y":3,"Y1":2,"O":4,"R":2},
{"t":140.75,"G":2,"Y":2,"Y1":5,"O":3,"R":5},
{"t":141,"G":4,"Y":5,"Y1":3,"O":2,"R":3},
{"t":141.25,"G":3,"Y":3,"Y1":4,"O":6,"R":4},
{"t":141.5,"G":1,"Y":2,"Y1":2,"O":3,"R":2},
{"t":141.75,"G":4,"Y":4,"Y1":1,"O":4,"R":1},
{"t":142,"G":2,"Y":3,"Y1":4,"O":2,"R":4},
{"t":142.25,"G":3,"Y":1,"Y1":3,"O":5,"R":3},
{"t":142.5,"G":5,"Y":4,"Y1":5,"O":3,"R":5},
{"t":142.75,"G":2,"Y":2,"Y1":2,"O":1,"R":2},
{"t":143,"G":4,"Y":3,"Y1":3,"O":4,"R":3},
{"t":143.25,"G":3,"Y":5,"Y1":1,"O":2,"R":1},
{"t":143.5,"G":1,"Y":2,"Y1":4,"O":6,"R":4},
{"t":143.75,"G":4,"Y":3,"Y1":2,"O":3,"R":2},
{"t":144,"G":2,"Y":4,"Y1":6,"O":4,"R":6},
{"t":144.25,"G":3,"Y":2,"Y1":3,"O":2,"R":3},
{"t":144.5,"G":5,"Y":3,"Y1":1,"O":5,"R":1},
{"t":144.75,"G":2,"Y":4,"Y1":4,"O":3,"R":4},
{"t":145,"G":4,"Y":1,"Y1":2,"O":2,"R":2},
{"t":145.25,"G":3,"Y":3,"Y1":5,"O":4,"R":5},
{"t":145.5,"G":1,"Y":5,"Y1":3,"O":3,"R":3},
{"t":145.75,"G":4,"Y":2,"Y1":4,"O":6,"R":4},
{"t":146,"G":2,"Y":3,"Y1":2,"O":2,"R":2},
{"t":146.25,"G":3,"Y":4,"Y1":1,"O":4,"R":1},
{"t":146.5,"G":5,"Y":2,"Y1":5,"O":3,"R":5},
{"t":146.75,"G":2,"Y":4,"Y1":6,"O":5,"R":6},
{"t":147,"G":4,"Y":3,"Y1":3,"O":2,"R":3},
{"t":147.25,"G":3,"Y":1,"Y1":7,"O":4,"R":7},
{"t":147.5,"G":1,"Y":4,"Y1":2,"O":3,"R":2},
{"t":147.75,"G":4,"Y":2,"Y1":4,"O":1,"R":4},
{"t":148,"G":2,"Y":3,"Y1":1,"O":4,"R":1},
{"t":148.25,"G":3,"Y":5,"Y1":3,"O":6,"R":3},
{"t":148.5,"G":5,"Y":2,"Y1":5,"O":2,"R":5},
{"t":148.75,"G":2,"Y":4,"Y1":2,"O":4,"R":2},
{"t":149,"G":4,"Y":3,"Y1":4,"O":3,"R":4},
{"t":149.25,"G":3,"Y":2,"Y1":3,"O":5,"R":3},
{"t":149.5,"G":1,"Y":4,"Y1":1,"O":2,"R":1},
{"t":149.75,"G":4,"Y":3,"Y1":5,"O":4,"R":5},
{"t":150,"G":2,"Y":1,"Y1":2,"O":3,"R":2}
]},
"encoding": {
  "x": {"field": "t", "type": "quantitative", "scale": {"domain": [0, 150], "nice": false, "zero": false},
    "axis": {"title": "Time / ns", "values": [25, 50, 75, 100, 125, 150], "labelExpr": "datum.value % 50 == 0 ? datum.label : ''", "tickSize": {"condition": {"test": "datum.value % 50 == 0", "value": 9}, "value": 5}, "labelPadding": 10, "titleFontSize": 29, "titleX": 393, "titleY": 71, "titleAlign": "center", "titleBaseline": "middle"}}
},
"layer": [
  {"mark": {"type": "point", "filled": true, "size": 30, "opacity": 1, "clip": true},
   "encoding": {
     "y": {"field": "G", "type": "quantitative", "scale": {"type": "log", "domain": [1, 10000], "nice": false},
       "axis": {"title": "Counts / a.u.", "values": [1,2,3,4,5,6,7,8,9,10,20,30,40,50,60,70,80,90,100,200,300,400,500,600,700,800,900,1000,2000,3000,4000,5000,6000,7000,8000,9000,10000], "labelExpr": "datum.value == 1 ? '10⁰' : datum.value == 10 ? '10¹' : datum.value == 100 ? '10²' : datum.value == 1000 ? '10³' : datum.value == 10000 ? '10⁴' : ''", "tickSize": {"condition": {"test": "indexof([1,10,100,1000,10000], datum.value) >= 0", "value": 10}, "value": 5}, "labelPadding": 10, "titleFontSize": 29, "titleAngle": -90, "titleX": -93, "titleY": 271, "titleAlign": "center", "titleBaseline": "middle"}},
     "color": {"datum": "TQT-G", "type": "nominal", "scale": {"domain": ["TQT-G","TQT-Y","TQT-Y1","TQT-O","TQT-R"], "range": ["#008000","#FFFF00","#808000","#FF8000","#FF0000"]}, "legend": {"title": null}},
     "shape": {"datum": "TQT-G", "type": "nominal", "scale": {"domain": ["TQT-G","TQT-Y","TQT-Y1","TQT-O","TQT-R"], "range": ["square","circle","triangle-up","triangle-down","diamond"]}, "legend": {"title": null}}
   }},
  {"mark": {"type": "point", "filled": true, "size": 40, "opacity": 1, "clip": true},
   "encoding": {
     "y": {"field": "Y", "type": "quantitative", "scale": {"type": "log", "domain": [1, 10000], "nice": false},
       "axis": {"title": "Counts / a.u.", "values": [1,2,3,4,5,6,7,8,9,10,20,30,40,50,60,70,80,90,100,200,300,400,500,600,700,800,900,1000,2000,3000,4000,5000,6000,7000,8000,9000,10000], "labelExpr": "datum.value == 1 ? '10⁰' : datum.value == 10 ? '10¹' : datum.value == 100 ? '10²' : datum.value == 1000 ? '10³' : datum.value == 10000 ? '10⁴' : ''", "tickSize": {"condition": {"test": "indexof([1,10,100,1000,10000], datum.value) >= 0", "value": 10}, "value": 5}, "labelPadding": 10, "titleFontSize": 29, "titleAngle": -90, "titleX": -93, "titleY": 271, "titleAlign": "center", "titleBaseline": "middle"}},
     "color": {"datum": "TQT-Y", "type": "nominal", "scale": {"domain": ["TQT-G","TQT-Y","TQT-Y1","TQT-O","TQT-R"], "range": ["#008000","#FFFF00","#808000","#FF8000","#FF0000"]}, "legend": {"title": null}},
     "shape": {"datum": "TQT-Y", "type": "nominal", "scale": {"domain": ["TQT-G","TQT-Y","TQT-Y1","TQT-O","TQT-R"], "range": ["square","circle","triangle-up","triangle-down","diamond"]}, "legend": {"title": null}}
   }},
  {"mark": {"type": "point", "filled": true, "size": 36, "opacity": 1, "clip": true},
   "encoding": {
     "y": {"field": "Y1", "type": "quantitative", "scale": {"type": "log", "domain": [1, 10000], "nice": false},
       "axis": {"title": "Counts / a.u.", "values": [1,2,3,4,5,6,7,8,9,10,20,30,40,50,60,70,80,90,100,200,300,400,500,600,700,800,900,1000,2000,3000,4000,5000,6000,7000,8000,9000,10000], "labelExpr": "datum.value == 1 ? '10⁰' : datum.value == 10 ? '10¹' : datum.value == 100 ? '10²' : datum.value == 1000 ? '10³' : datum.value == 10000 ? '10⁴' : ''", "tickSize": {"condition": {"test": "indexof([1,10,100,1000,10000], datum.value) >= 0", "value": 10}, "value": 5}, "labelPadding": 10, "titleFontSize": 29, "titleAngle": -90, "titleX": -93, "titleY": 271, "titleAlign": "center", "titleBaseline": "middle"}},
     "color": {"datum": "TQT-Y1", "type": "nominal", "scale": {"domain": ["TQT-G","TQT-Y","TQT-Y1","TQT-O","TQT-R"], "range": ["#008000","#FFFF00","#808000","#FF8000","#FF0000"]}, "legend": {"title": null}},
     "shape": {"datum": "TQT-Y1", "type": "nominal", "scale": {"domain": ["TQT-G","TQT-Y","TQT-Y1","TQT-O","TQT-R"], "range": ["square","circle","triangle-up","triangle-down","diamond"]}, "legend": {"title": null}}
   }},
  {"mark": {"type": "point", "filled": true, "size": 50, "opacity": 1, "clip": true},
   "encoding": {
     "y": {"field": "O", "type": "quantitative", "scale": {"type": "log", "domain": [1, 10000], "nice": false},
       "axis": {"title": "Counts / a.u.", "values": [1,2,3,4,5,6,7,8,9,10,20,30,40,50,60,70,80,90,100,200,300,400,500,600,700,800,900,1000,2000,3000,4000,5000,6000,7000,8000,9000,10000], "labelExpr": "datum.value == 1 ? '10⁰' : datum.value == 10 ? '10¹' : datum.value == 100 ? '10²' : datum.value == 1000 ? '10³' : datum.value == 10000 ? '10⁴' : ''", "tickSize": {"condition": {"test": "indexof([1,10,100,1000,10000], datum.value) >= 0", "value": 10}, "value": 5}, "labelPadding": 10, "titleFontSize": 29, "titleAngle": -90, "titleX": -93, "titleY": 271, "titleAlign": "center", "titleBaseline": "middle"}},
     "color": {"datum": "TQT-O", "type": "nominal", "scale": {"domain": ["TQT-G","TQT-Y","TQT-Y1","TQT-O","TQT-R"], "range": ["#008000","#FFFF00","#808000","#FF8000","#FF0000"]}, "legend": {"title": null}},
     "shape": {"datum": "TQT-O", "type": "nominal", "scale": {"domain": ["TQT-G","TQT-Y","TQT-Y1","TQT-O","TQT-R"], "range": ["square","circle","triangle-up","triangle-down","diamond"]}, "legend": {"title": null}}
   }},
  {"mark": {"type": "point", "filled": true, "size": 64, "opacity": 1, "clip": true},
   "encoding": {
     "y": {"field": "R", "type": "quantitative", "scale": {"type": "log", "domain": [1, 10000], "nice": false},
       "axis": {"title": "Counts / a.u.", "values": [1,2,3,4,5,6,7,8,9,10,20,30,40,50,60,70,80,90,100,200,300,400,500,600,700,800,900,1000,2000,3000,4000,5000,6000,7000,8000,9000,10000], "labelExpr": "datum.value == 1 ? '10⁰' : datum.value == 10 ? '10¹' : datum.value == 100 ? '10²' : datum.value == 1000 ? '10³' : datum.value == 10000 ? '10⁴' : ''", "tickSize": {"condition": {"test": "indexof([1,10,100,1000,10000], datum.value) >= 0", "value": 10}, "value": 5}, "labelPadding": 10, "titleFontSize": 29, "titleAngle": -90, "titleX": -93, "titleY": 271, "titleAlign": "center", "titleBaseline": "middle"}},
     "color": {"datum": "TQT-R", "type": "nominal", "scale": {"domain": ["TQT-G","TQT-Y","TQT-Y1","TQT-O","TQT-R"], "range": ["#008000","#FFFF00","#808000","#FF8000","#FF0000"]}, "legend": {"title": null}},
     "shape": {"datum": "TQT-R", "type": "nominal", "scale": {"domain": ["TQT-G","TQT-Y","TQT-Y1","TQT-O","TQT-R"], "range": ["square","circle","triangle-up","triangle-down","diamond"]}, "legend": {"title": null}}
   }}
]
}
